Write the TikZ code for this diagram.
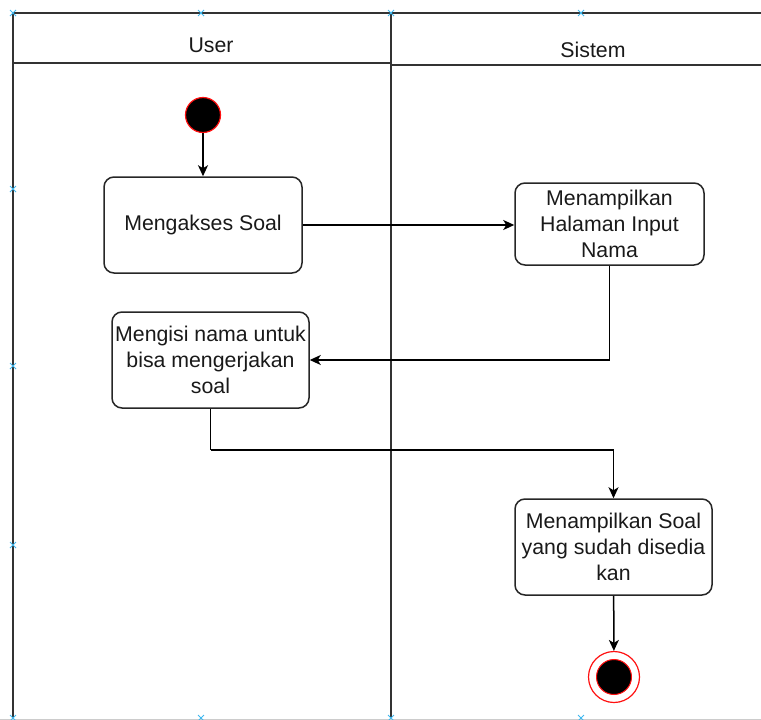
\documentclass[tikz,border=0pt]{standalone}
\usepackage{fontspec}
\setmainfont{Liberation Sans}
\usetikzlibrary{arrows.meta}
\definecolor{lanegray}{HTML}{333333}
\definecolor{handleblue}{HTML}{3FB8F0}
\definecolor{endred}{HTML}{FF1010}
\begin{document}
\begin{tikzpicture}[x=1pt,y=-1pt,
  every node/.style={font=\fontsize{21.3}{26}\selectfont, text=black!90},
  lane/.style={draw=lanegray, line width=1.6pt},
  actbox/.style={draw=black!85, line width=1.5pt, rounded corners=10pt, align=center, inner sep=0pt},
  flow/.style={draw=black, line width=1.5pt, -{Stealth[length=11pt,width=10pt,inset=3pt]}},
  handle/.style={draw=handleblue, line width=0.9pt}
]
\useasboundingbox (0,0) rectangle (761,720);

% swimlane frame
\draw[lane] (13,13) -- (761,13);
\draw[lane] (13,13) -- (13,720);
\draw[lane] (391,13) -- (391,720);
\draw[lane] (13,63) -- (391,63);
\draw[lane] (391,65) -- (761,65);
\draw[draw=black!20, line width=1pt] (0,719) -- (761,719);

% lane titles
\node (user) at (211,45) {User};
\node (sistem) at (593,50) {Sistem};

% initial node
\node[circle, fill=black, draw=endred, line width=1.2pt, minimum size=35pt, inner sep=0pt] (start) at (203,115) {};

% activities
\node[actbox, minimum width=198pt, minimum height=96pt] (akses) at (203,225) {Mengakses Soal};
\node[actbox, minimum width=189pt, minimum height=82pt] (halaman) at (609.5,224) {Menampilkan\\Halaman Input\\Nama};
\node[actbox, minimum width=197pt, minimum height=96pt] (isi) at (210.5,360) {Mengisi nama untuk\\bisa mengerjakan\\soal};
\node[actbox, minimum width=197pt, minimum height=96pt] (tampil) at (613.5,547) {Menampilkan Soal\\yang sudah disedia\\kan};

% final node
\node[circle, draw=endred, line width=1.2pt, fill=white, minimum size=51pt, inner sep=0pt] (final) at (614,677) {};
\node[circle, fill=black, draw=endred, line width=1pt, minimum size=35pt, inner sep=0pt] (finalcore) at (614,677) {};

% control flow
\coordinate (bend) at (isi.south |- 0,450);
\draw[flow] (start) -- (akses);
\draw[flow] (akses) -- (halaman.west |- akses.east);
\draw[flow] (halaman.south) |- (isi.east);
\draw[draw=black, line width=1.5pt] (isi.south) -- (bend);
\draw[flow] (bend) -| (tampil.north);
\draw[flow] (tampil) -- (final);

% selection handles
\foreach \hx/\hy in {13/13,201/13,391/13,581/13,13/189,13/366,13/545,13/718,201/718,391/718,581/718}{
  \draw[handle] (\hx-3,\hy-3) -- (\hx+3,\hy+3) (\hx-3,\hy+3) -- (\hx+3,\hy-3);
}
\end{tikzpicture}
\end{document}
